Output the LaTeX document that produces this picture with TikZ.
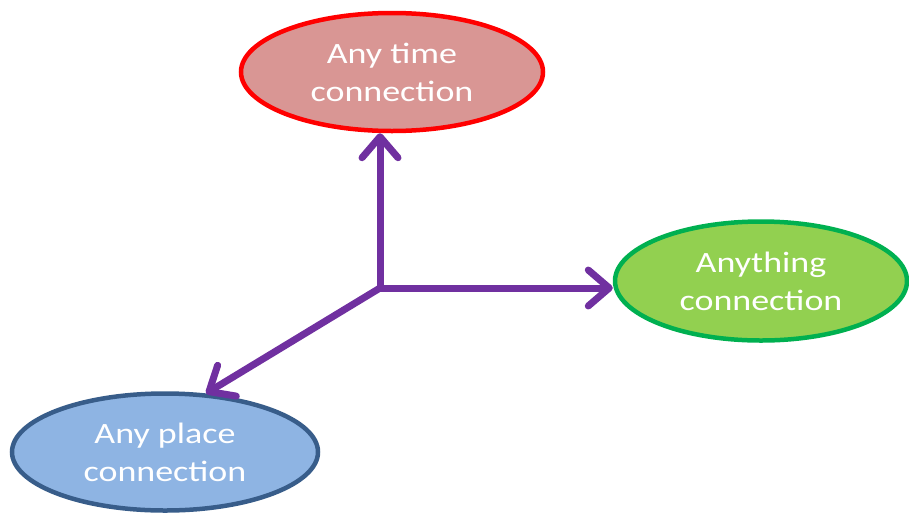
\documentclass[tikz,border=0pt]{standalone}
\usepackage{fontspec}
\setmainfont{Carlito}[FakeStretch=1.22]
\usetikzlibrary{shapes.geometric,arrows.meta}
\definecolor{timefill}{HTML}{D99694}
\definecolor{timeline}{HTML}{FF0000}
\definecolor{thingfill}{HTML}{92D050}
\definecolor{thingline}{HTML}{00B050}
\definecolor{placefill}{HTML}{8EB4E3}
\definecolor{placeline}{HTML}{385D8A}
\definecolor{arrowcol}{HTML}{7030A0}
\tikzset{
  bubble/.style={ellipse, line width=4.5pt, inner sep=0pt, align=center,
    text=white, font=\fontsize{29.5}{38}\selectfont},
  link/.style={draw=arrowcol, line width=7pt, line cap=rect,
    -{Straight Barb[length=21pt,width=36pt,line cap=round,line join=round]}}
}
\begin{document}
\begin{tikzpicture}[x=1pt,y=-1pt]
  \useasboundingbox (0,0) rectangle (909,517);
  \node[bubble, draw=timeline, fill=timefill, minimum width=302pt, minimum height=118pt]
    (time) at (392,72) {Any time\\connection};
  \node[bubble, draw=thingline, fill=thingfill, minimum width=292pt, minimum height=119pt]
    (thing) at (761,281) {Anything\\connection};
  \node[bubble, draw=placeline, fill=placefill, minimum width=306pt, minimum height=117pt]
    (place) at (165,452) {Any place\\connection};
  \coordinate (hub) at (380,288);
  \draw[link] (hub) -- (hub |- time.south);
  \draw[link] (hub) -- (hub -| thing.west);
  \draw[link] (hub) -- (place.55);
\end{tikzpicture}
\end{document}
